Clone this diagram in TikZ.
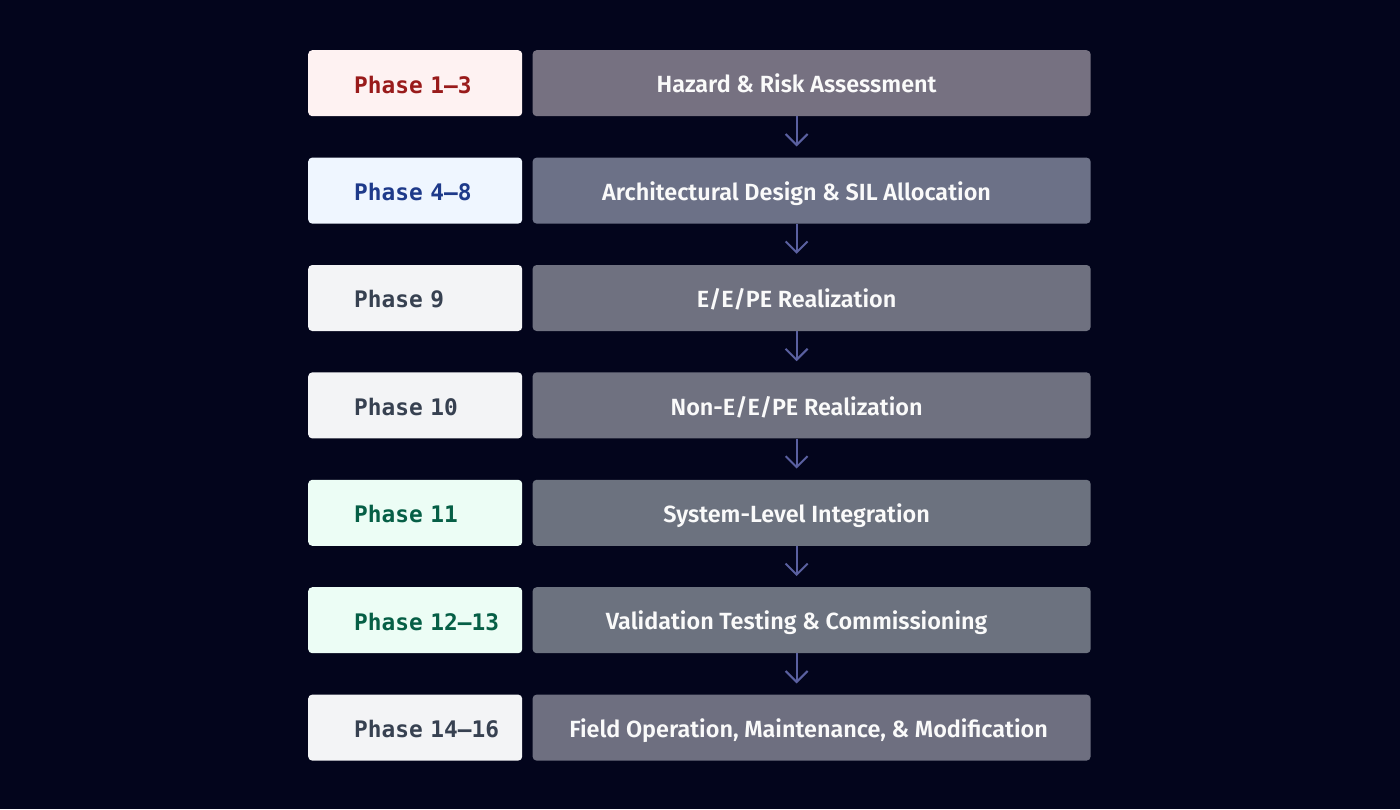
\documentclass[tikz,border=0pt]{standalone}
\usepackage{fontspec}
\setmainfont{Fira Sans}[BoldFont={* SemiBold}]
\newfontfamily\phasefont{DejaVu Sans Mono}
\usetikzlibrary{positioning,calc,arrows.meta}
\definecolor{bgcol}{HTML}{03051C}
\definecolor{flowcol}{HTML}{5A60A0}
\definecolor{redfill}{HTML}{FEF2F2}\definecolor{redtext}{HTML}{991B1B}
\definecolor{bluefill}{HTML}{EFF6FF}\definecolor{bluetext}{HTML}{1E3A8A}
\definecolor{grayfill}{HTML}{F3F4F6}\definecolor{graytext}{HTML}{374151}
\definecolor{greenfill}{HTML}{ECFDF5}\definecolor{greentext}{HTML}{065F46}
\definecolor{stageA}{HTML}{767181}
\definecolor{stageB}{HTML}{6C7187}
\definecolor{stageC}{HTML}{6F7180}
\definecolor{stageD}{HTML}{6C727F}
\definecolor{stageE}{HTML}{6E6F80}
\begin{document}
\begin{tikzpicture}[x=1pt,y=-1pt,
   node distance=41pt and 10pt,
   phasebox/.style={rounded corners=4pt,inner xsep=0pt,inner ysep=0pt,
      text width=214pt,align=left,minimum height=66pt,
      text height=19.6pt,text depth=0pt,
      font=\phasefont\bfseries\fontsize{22.8}{24}\selectfont,
      execute at begin node={\hspace*{46pt}}},
   stagebox/.style={rounded corners=4pt,inner sep=0pt,
      minimum width=558pt,minimum height=66pt},
   stagetext/.style={text=white!96!gray,inner sep=0pt,yshift=-1.5pt,
      text height=16.2pt,text depth=0pt,
      font=\bfseries\fontsize{23.4}{26}\selectfont},
   flow/.style={draw=flowcol,line width=2pt,shorten >=11pt,
      -{Straight Barb[length=11pt,width=22pt,line width=2pt]}}]
\useasboundingbox[fill=bgcol] (0,0) rectangle (1400,809);
% phase column
\node[phasebox,fill=redfill,text=redtext,anchor=north west] (p1) at (308,50) {Phase 1–3};
\node[phasebox,fill=bluefill,text=bluetext,below=of p1] (p2) {Phase 4–8};
\node[phasebox,fill=grayfill,text=graytext,below=of p2] (p3) {Phase 9};
\node[phasebox,fill=grayfill,text=graytext,below=of p3] (p4) {Phase 10};
\node[phasebox,fill=greenfill,text=greentext,below=of p4] (p5) {Phase 11};
\node[phasebox,fill=greenfill,text=greentext,below=of p5] (p6) {Phase 12–13};
\node[phasebox,fill=grayfill,text=graytext,below=of p6] (p7) {Phase 14–16};
% stage boxes
\node[stagebox,fill=stageA,right=of p1] (m1) {};
\node[stagebox,fill=stageB,right=of p2] (m2) {};
\node[stagebox,fill=stageC,right=of p3] (m3) {};
\node[stagebox,fill=stageC,right=of p4] (m4) {};
\node[stagebox,fill=stageD,right=of p5] (m5) {};
\node[stagebox,fill=stageD,right=of p6] (m6) {};
\node[stagebox,fill=stageE,right=of p7] (m7) {};
\node[stagetext] (t1) at ($(m1.center)+(-15,0)$) {Hazard \& Risk Assessment};
\node[stagetext] (t2) at ($(m2.center)+(-15,0)$) {Architectural Design \& SIL Allocation};
\node[stagetext] (t3) at ($(m3.center)+(-15,0)$) {E/E/PE Realization};
\node[stagetext] (t4) at ($(m4.center)+(-15,0)$) {Non-E/E/PE Realization};
\node[stagetext] (t5) at ($(m5.center)+(-15,0)$) {System-Level Integration};
\node[stagetext] (t6) at ($(m6.center)+(-15,0)$) {Validation Testing \& Commissioning};
\node[stagetext] (t7) at ($(m7.center)+(-3,0)$) {Field Operation, Maintenance, \& Modification};
% arrows
\draw[flow] (t1 |- m1.south) -- (t1 |- m2.north);
\draw[flow] (t1 |- m2.south) -- (t1 |- m3.north);
\draw[flow] (t1 |- m3.south) -- (t1 |- m4.north);
\draw[flow] (t1 |- m4.south) -- (t1 |- m5.north);
\draw[flow] (t1 |- m5.south) -- (t1 |- m6.north);
\draw[flow] (t1 |- m6.south) -- (t1 |- m7.north);
\end{tikzpicture}
\end{document}
